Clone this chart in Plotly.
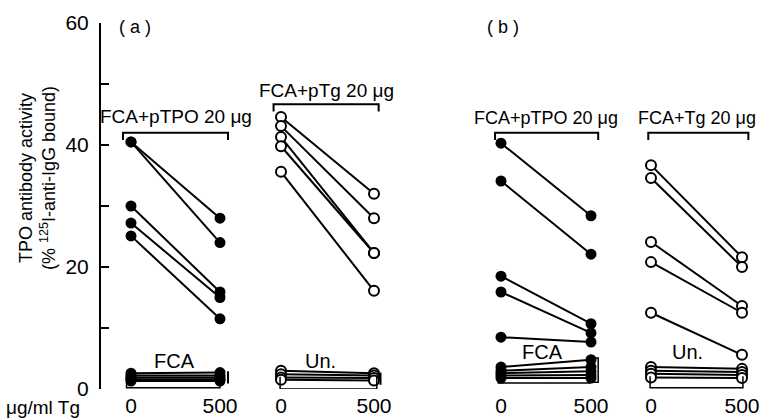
import plotly.graph_objects as go

# ---------------- data ----------------
doses = [0, 500]
x_tick_labels = ["0", "500"]
y_tick_vals = [0, 20, 40, 60]
y_tick_text = ["0", "20", "40", "60"]
y_minor_step = 10

# panel (a)
a_tpo_0 = [40.5, 40.5, 30.0, 27.2, 25.1]
a_tpo_500 = [28.0, 24.0, 15.9, 15.0, 11.5]
a_fca_0 = [2.6, 2.2, 1.9, 1.6, 1.3]
a_fca_500 = [2.7, 2.2, 1.9, 1.6, 1.3]
a_ptg_0 = [44.6, 43.1, 41.3, 39.8, 35.6]
a_ptg_500 = [32.0, 28.0, 22.3, 22.3, 16.1]
a_un_0 = [3.0, 2.4, 1.9, 1.5]
a_un_500 = [2.6, 2.2, 1.8, 1.4]

# panel (b)
b_tpo_0 = [40.3, 34.1, 18.5, 15.9, 8.5]
b_tpo_500 = [28.4, 22.1, 10.7, 9.2, 7.7]
b_fca_0 = [3.6, 3.0, 2.6, 2.2, 1.8]
b_fca_500 = [4.8, 3.6, 2.9, 2.3, 1.8]
b_tg_0 = [36.7, 34.6, 24.1, 20.8, 12.5]
b_tg_500 = [21.6, 20.0, 13.6, 12.5, 5.6]
b_un_0 = [3.6, 3.0, 2.5, 1.9]
b_un_500 = [3.3, 2.8, 2.3, 1.8]

# ---------------- layout helpers ----------------
W, H = 767, 418
FONT = "Liberation Sans"
Y_BOTTOM_PX, Y_TOP_PX = 389, 23
PAD = 24
groups_px = [(131, 220), (281, 374), (501, 591), (651, 742)]


def pairs(v0, v500):
    xs, ys = [], []
    for a, b in zip(v0, v500):
        xs += [doses[0], doses[1], None]
        ys += [a, b, None]
    return xs, ys


fig = go.Figure()


def add_group(v0, v500, axis, filled):
    xs, ys = pairs(v0, v500)
    if filled:
        marker = dict(size=11, color="black")
    else:
        marker = dict(size=10, color="white", line=dict(color="black", width=2))
    fig.add_trace(go.Scatter(x=xs, y=ys, mode="lines+markers", xaxis=axis, yaxis="y",
                             line=dict(color="black", width=2), marker=marker,
                             cliponaxis=False, showlegend=False, hoverinfo="skip"))


add_group(a_fca_0, a_fca_500, "x", True)
add_group(a_tpo_0, a_tpo_500, "x", True)
add_group(a_un_0, a_un_500, "x2", False)
add_group(a_ptg_0, a_ptg_500, "x2", False)
add_group(b_fca_0, b_fca_500, "x3", True)
add_group(b_tpo_0, b_tpo_500, "x3", True)
add_group(b_un_0, b_un_500, "x4", False)
add_group(b_tg_0, b_tg_500, "x4", False)

layout = dict(
    width=W, height=H, margin=dict(l=0, r=0, t=0, b=0, pad=0, autoexpand=False),
    paper_bgcolor="white", plot_bgcolor="white",
    font=dict(family=FONT, color="black", size=17),
    showlegend=False,
    yaxis=dict(domain=[(H - Y_BOTTOM_PX) / H, (H - Y_TOP_PX) / H], range=[0, 60],
               anchor="free", position=100 / W, showline=True, linecolor="black",
               linewidth=2, ticks="inside", ticklen=8, tickwidth=2, tickcolor="black",
               tickvals=y_tick_vals, ticktext=y_tick_text, showgrid=False,
               minor=dict(tick0=0, dtick=y_minor_step, ticks="inside", ticklen=8,
                          tickwidth=2, tickcolor="black", showgrid=False),
               zeroline=False, tickfont=dict(size=21, family=FONT),
               ticklabelstandoff=6, automargin=False),
)

axis_names = ["xaxis", "xaxis2", "xaxis3", "xaxis4"]
for name, (p0, p500) in zip(axis_names, groups_px):
    s = (p500 - p0) / 500.0
    layout[name] = dict(domain=[max(0, (p0 - PAD) / W), min(1, (p500 + PAD) / W)],
                        range=[-PAD / s, 500 + PAD / s], anchor="y",
                        showline=False, showgrid=False, zeroline=False, ticks="",
                        tickvals=doses, ticktext=x_tick_labels,
                        tickfont=dict(size=21, family=FONT), ticklabelstandoff=2,
                        automargin=False)
fig.update_layout(**layout)

# ---------------- brackets & decorations ----------------
shapes = []


def top_bracket(xref, x1, x2, y, leg):
    shapes.append(dict(type="path", xref=xref, yref="y",
                       path=f"M {x1},{y - leg} L {x1},{y} L {x2},{y} L {x2},{y - leg}",
                       line=dict(color="black", width=2)))


def bottom_bracket(xref, x1, x2, y, leg):
    shapes.append(dict(type="path", xref=xref, yref="y",
                       path=f"M {x1},{y + leg} L {x1},{y} L {x2},{y} L {x2},{y + leg}",
                       line=dict(color="black", width=1.5)))


top_bracket("x", -45, 545, 42.0, 1.2)
top_bracket("x2", -40, 525, 46.7, 1.2)
top_bracket("x3", -33, 540, 42.0, 1.2)
top_bracket("x4", -15, 535, 42.0, 1.2)

bottom_bracket("x", -25, 500, 0.2, 1.9)
bottom_bracket("x2", -5, 515, 0.0, 2.0)
bottom_bracket("x3", -15, 495, 1.0, 2.0)
bottom_bracket("x4", -5, 505, 0.2, 1.9)

# small box at right of panel (b) FCA cluster
shapes.append(dict(type="rect", xref="x3", yref="y", x0=495, x1=540, y0=1.1, y1=5.1,
                   line=dict(color="black", width=1.5)))
# small vertical marks to the right of panel (a) clusters
shapes.append(dict(type="line", xref="x", yref="y", x0=545, x1=545, y0=0.9, y1=2.9,
                   line=dict(color="black", width=2)))
shapes.append(dict(type="line", xref="x2", yref="y", x0=535, x1=535, y0=0.7, y1=2.7,
                   line=dict(color="black", width=2)))
fig.update_layout(shapes=shapes)

ann = []


def txt(text, x, y, xref, yref, size=17, xanchor="center", **kw):
    ann.append(dict(text=text, x=x, y=y, xref=xref, yref=yref, showarrow=False,
                    xanchor=xanchor, yanchor="middle",
                    font=dict(size=size, family=FONT, color="black"), **kw))


txt("FCA+pTPO 20 \u03bcg", 250, 44.6, "x", "y", size=19)
txt("FCA+pTg 20 \u03bcg", 245, 49.0, "x2", "y", size=19)
txt("FCA+pTPO 20 \u03bcg", 250, 44.4, "x3", "y", size=18)
txt("FCA+Tg 20 \u03bcg", 255, 44.4, "x4", "y", size=18)
txt("FCA", 245, 4.6, "x", "y", size=20)
txt("Un.", 210, 4.6, "x2", "y", size=20)
txt("FCA", 230, 6.0, "x3", "y", size=20)
txt("Un.", 200, 6.0, "x4", "y", size=20)
txt("( a )", 135 / W, (H - 27) / H, "paper", "paper", size=18)
txt("( b )", 503 / W, (H - 27) / H, "paper", "paper", size=18)
txt("\u03bcg/ml Tg", 4 / W, (H - 407) / H, "paper", "paper", size=19, xanchor="left")
txt("TPO antibody activity<br>(% <sup>125</sup>I-anti-IgG bound)", 37 / W, (H - 178) / H,
    "paper", "paper", size=18, textangle=-90)
fig.update_layout(annotations=ann)

fig.write_html("out.html", config={"displayModeBar": False},
               post_script="document.body.style.margin='0';")
